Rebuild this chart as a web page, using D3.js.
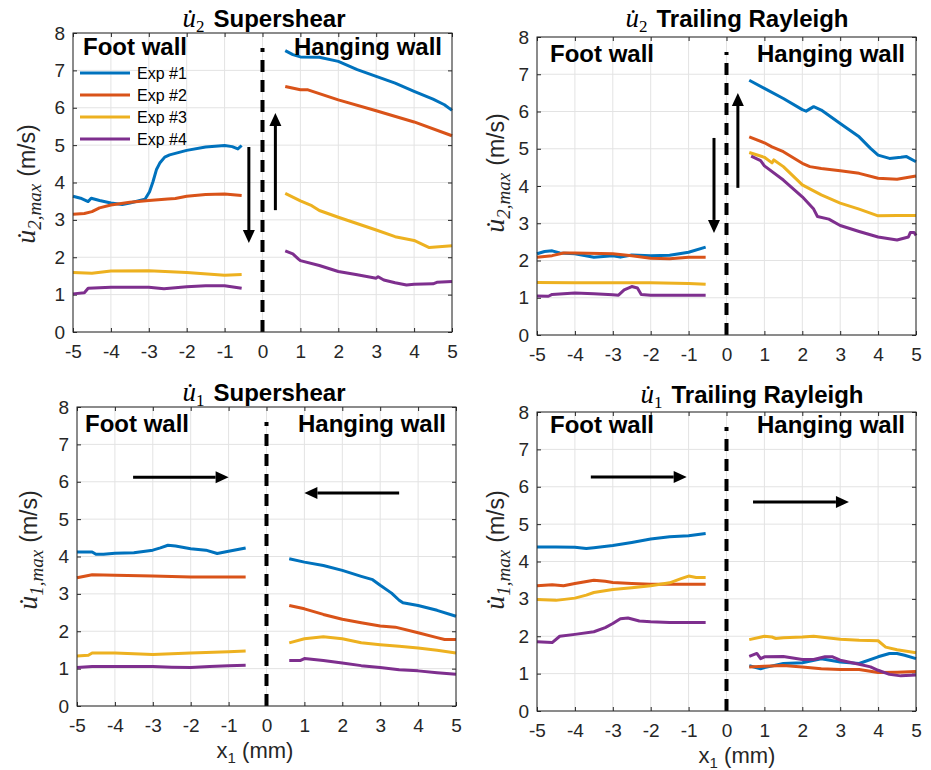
<!DOCTYPE html>
<html>
<head>
<meta charset="utf-8">
<script src="https://cdn.jsdelivr.net/npm/d3@7"></script>
<style>
    body { margin: 0; background: #fff; }
    text { font-family: "Liberation Sans", Arial, Helvetica, sans-serif; }
</style>
</head>
<body>
<div id="chart"></div>
<script>
// series labels + MATLAB default colours
const expNames = ["Exp #1", "Exp #2", "Exp #3", "Exp #4"];
const expColors = ["#0072BD", "#D95319", "#EDB120", "#7E2F8E"];
const xTicks = [-5, -4, -3, -2, -1, 0, 1, 2, 3, 4, 5];
const yTicks = [0, 1, 2, 3, 4, 5, 6, 7, 8];

// [x1 (mm), u (m/s)] ; null splits foot wall / hanging wall
const u2SuperExp1 = [[-5,3.63],[-4.8,3.58],[-4.6,3.49],[-4.52,3.58],[-4.3,3.52],[-4,3.45],[-3.7,3.41],[-3.5,3.45],[-3.1,3.55],[-2.98,3.75],[-2.89,4.02],[-2.8,4.34],[-2.71,4.52],[-2.58,4.68],[-2.45,4.74],[-2,4.86],[-1.5,4.95],[-1,4.99],[-0.8,4.96],[-0.65,4.9],[-0.55,4.99], null,
    [0.6,7.53],[0.8,7.42],[1,7.36],[1.5,7.35],[2,7.24],[2.5,7.02],[3,6.84],[3.5,6.66],[4,6.44],[4.5,6.23],[4.8,6.08],[5,5.93]];
const u2SuperExp2 = [[-5,3.15],[-4.7,3.17],[-4.5,3.22],[-4.3,3.32],[-4,3.40],[-3.5,3.47],[-3,3.52],[-2.5,3.56],[-2.3,3.57],[-2,3.63],[-1.5,3.68],[-1,3.69],[-0.55,3.65], null,
    [0.6,6.57],[1,6.48],[1.2,6.48],[2,6.21],[3,5.92],[4,5.62],[5,5.25]];
const u2SuperExp3 = [[-5,1.59],[-4.5,1.57],[-4,1.63],[-3,1.64],[-2,1.59],[-1,1.52],[-0.55,1.54], null,
    [0.6,3.71],[1,3.51],[1.3,3.38],[1.5,3.25],[2,3.07],[3,2.73],[3.5,2.55],[4,2.45],[4.4,2.26],[5,2.31]];
const u2SuperExp4 = [[-5,1.02],[-4.7,1.05],[-4.6,1.17],[-4,1.20],[-3,1.20],[-2.6,1.16],[-2,1.21],[-1.5,1.24],[-1,1.24],[-0.55,1.17], null,
    [0.6,2.17],[0.8,2.09],[0.95,1.95],[1,1.91],[1.5,1.78],[2,1.62],[2.5,1.53],[3,1.44],[3.05,1.48],[3.2,1.39],[3.5,1.32],[3.8,1.26],[4,1.28],[4.5,1.29],[4.6,1.33],[5,1.35]];

const u2TrailExp1 = [[-5,2.18],[-4.8,2.24],[-4.6,2.26],[-4.4,2.20],[-4,2.18],[-3.5,2.09],[-3,2.13],[-2.8,2.09],[-2.5,2.15],[-2,2.13],[-1.5,2.14],[-1,2.22],[-0.55,2.36], null,
    [0.6,6.84],[1,6.62],[1.5,6.35],[2,6.05],[2.1,6.01],[2.3,6.13],[2.5,6.04],[3,5.68],[3.5,5.32],[3.8,5.01],[4,4.83],[4.3,4.74],[4.6,4.77],[4.75,4.79],[5,4.65]];
const u2TrailExp2 = [[-5,2.09],[-4.6,2.13],[-4.3,2.20],[-4,2.20],[-3,2.18],[-2.5,2.13],[-2,2.06],[-1.5,2.05],[-1,2.09],[-0.55,2.09], null,
    [0.6,5.32],[1,5.16],[1.2,5.05],[1.5,4.92],[2,4.61],[2.2,4.52],[2.5,4.47],[3,4.41],[3.5,4.34],[4,4.21],[4.5,4.18],[5,4.27]];
const u2TrailExp3 = [[-5,1.41],[-4,1.40],[-3,1.40],[-2,1.40],[-1,1.38],[-0.55,1.36], null,
    [0.6,4.90],[1,4.77],[1.2,4.62],[1.25,4.70],[1.5,4.52],[2,4.03],[2.5,3.76],[3,3.54],[3.5,3.38],[4,3.20],[4.5,3.21],[5,3.21]];
const u2TrailExp4 = [[-5,1.05],[-4.7,1.04],[-4.6,1.09],[-4,1.13],[-3.5,1.11],[-3,1.08],[-2.85,1.07],[-2.7,1.21],[-2.5,1.30],[-2.35,1.26],[-2.25,1.09],[-2,1.07],[-1,1.07],[-0.55,1.07], null,
    [0.65,4.80],[0.9,4.68],[1,4.54],[1.5,4.16],[2,3.71],[2.3,3.38],[2.4,3.18],[2.7,3.11],[3,2.94],[3.5,2.78],[4,2.63],[4.5,2.55],[4.8,2.63],[4.85,2.75],[4.95,2.75],[5,2.67]];

const u1SuperExp1 = [[-5,4.12],[-4.6,4.12],[-4.5,4.06],[-4.3,4.06],[-4,4.09],[-3.5,4.10],[-3,4.17],[-2.8,4.23],[-2.6,4.30],[-2.4,4.28],[-2,4.21],[-1.6,4.17],[-1.3,4.08],[-1,4.14],[-0.55,4.23], null,
    [0.6,3.94],[1,3.85],[1.5,3.76],[2,3.63],[2.5,3.47],[2.8,3.38],[3,3.23],[3.3,3.02],[3.5,2.83],[3.6,2.76],[4,2.69],[4.5,2.56],[5,2.40]];
const u1SuperExp2 = [[-5,3.43],[-4.6,3.51],[-4,3.50],[-3,3.48],[-2,3.45],[-1,3.45],[-0.55,3.45], null,
    [0.6,2.69],[1,2.60],[1.5,2.45],[2,2.32],[2.5,2.23],[3,2.14],[3.4,2.11],[4,1.96],[4.5,1.83],[4.7,1.78],[5,1.78]];
const u1SuperExp3 = [[-5,1.34],[-4.7,1.36],[-4.6,1.42],[-4,1.42],[-3,1.38],[-2,1.42],[-1,1.45],[-0.55,1.47], null,
    [0.6,1.69],[1,1.80],[1.5,1.85],[2,1.80],[2.5,1.69],[3,1.64],[3.5,1.60],[4,1.55],[4.5,1.49],[5,1.42]];
const u1SuperExp4 = [[-5,1.03],[-4.6,1.06],[-4,1.06],[-3,1.06],[-2.5,1.04],[-2,1.03],[-1.5,1.06],[-1,1.08],[-0.55,1.09], null,
    [0.6,1.22],[0.9,1.22],[1,1.27],[1.5,1.22],[2,1.15],[2.5,1.08],[3,1.03],[3.5,0.97],[4,0.94],[4.5,0.89],[5,0.85]];

const u1TrailExp1 = [[-5,4.39],[-4.5,4.39],[-4,4.38],[-3.7,4.35],[-3.5,4.37],[-3,4.43],[-2.5,4.51],[-2,4.60],[-1.5,4.66],[-1,4.69],[-0.55,4.75], null,
    [0.6,1.21],[0.9,1.13],[1,1.16],[1.5,1.27],[2,1.29],[2.5,1.40],[3,1.31],[3.5,1.27],[4,1.45],[4.3,1.54],[4.5,1.54],[4.7,1.49],[5,1.40]];
const u1TrailExp2 = [[-5,3.35],[-4.6,3.38],[-4.3,3.35],[-4,3.41],[-3.5,3.50],[-3.2,3.47],[-3,3.44],[-2.5,3.41],[-2,3.39],[-1,3.39],[-0.55,3.39], null,
    [0.6,1.18],[1,1.20],[1.5,1.22],[2,1.18],[2.5,1.13],[3,1.11],[3.5,1.11],[4,1.03],[4.5,1.04],[5,1.06]];
const u1TrailExp3 = [[-5,2.98],[-4.5,2.96],[-4,3.02],[-3.7,3.10],[-3.5,3.17],[-3,3.25],[-2.5,3.30],[-2,3.35],[-1.5,3.43],[-1.2,3.54],[-1,3.61],[-0.8,3.57],[-0.55,3.57], null,
    [0.6,1.91],[1,2.00],[1.2,1.98],[1.3,1.94],[1.5,1.96],[2,1.98],[2.3,2.00],[3,1.92],[3.5,1.89],[4,1.88],[4.2,1.71],[4.5,1.64],[5,1.56]];
const u1TrailExp4 = [[-5,1.85],[-4.6,1.83],[-4.4,2.00],[-4,2.05],[-3.5,2.12],[-3.2,2.23],[-3,2.34],[-2.8,2.47],[-2.6,2.49],[-2.3,2.41],[-2,2.39],[-1.5,2.37],[-1,2.37],[-0.55,2.37], null,
    [0.6,1.46],[0.8,1.54],[0.9,1.40],[1,1.45],[1.5,1.46],[2,1.38],[2.3,1.38],[2.6,1.45],[2.8,1.45],[3,1.36],[3.5,1.25],[3.8,1.18],[4,1.09],[4.3,0.98],[4.6,0.94],[5,0.96]];

// slip direction arrows [xStart, yStart, xEnd, yEnd] (data units)
const u2SuperArrows = [[-0.36, 4.95, -0.36, 2.38], [0.34, 3.26, 0.34, 5.86]];
const u2TrailArrows = [[-0.33, 5.29, -0.33, 2.74], [0.30, 3.95, 0.30, 6.5]];
const u1SuperArrows = [[-3.52, 6.12, -1.0, 6.12], [3.5, 5.70, 1.0, 5.70]];
const u1TrailArrows = [[-3.58, 6.26, -1.05, 6.26], [0.70, 5.59, 3.23, 5.59]];

// layout (pixels) per subplot
const panels = [
    { comp: "2", name: "Supershear", box: { l: 73, r: 452, t: 33, b: 332 },
      titleX: 264, titleY: 27, wallY: 55, footX: 83, hangX: 442, ylabX: 35, ylabY: 184, xlabX: null, xlabY: null,
      series: [u2SuperExp1, u2SuperExp2, u2SuperExp3, u2SuperExp4], arrows: u2SuperArrows, legend: true },
    { comp: "2", name: "Trailing Rayleigh", box: { l: 537, r: 916, t: 37, b: 335 },
      titleX: 737, titleY: 27, wallY: 62, footX: 550, hangX: 905, ylabX: 504, ylabY: 173, xlabX: null, xlabY: null,
      series: [u2TrailExp1, u2TrailExp2, u2TrailExp3, u2TrailExp4], arrows: u2TrailArrows, legend: false },
    { comp: "1", name: "Supershear", box: { l: 77, r: 456, t: 407, b: 706 },
      titleX: 264, titleY: 401, wallY: 432, footX: 85, hangX: 446, ylabX: 37, ylabY: 550, xlabX: 255, xlabY: 758,
      series: [u1SuperExp1, u1SuperExp2, u1SuperExp3, u1SuperExp4], arrows: u1SuperArrows, legend: false },
    { comp: "1", name: "Trailing Rayleigh", box: { l: 537, r: 916, t: 412, b: 711 },
      titleX: 752, titleY: 403, wallY: 433, footX: 550, hangX: 905, ylabX: 504, ylabY: 550, xlabX: 737, xlabY: 763,
      series: [u1TrailExp1, u1TrailExp2, u1TrailExp3, u1TrailExp4], arrows: u1TrailArrows, legend: false }
];

const TEXT_COLOR = "#262626";
const SERIF = "'Liberation Serif', 'Times New Roman', serif";

const svg = d3.select("#chart").append("svg")
    .attr("width", 931)
    .attr("height", 770);

panels.forEach(p => {
    const x = d3.scaleLinear().domain([-5, 5]).range([p.box.l, p.box.r]);
    const y = d3.scaleLinear().domain([0, 8]).range([p.box.b, p.box.t]);
    const g = svg.append("g");

    // grid
    g.append("g").selectAll("line").data(xTicks).join("line")
        .attr("x1", d => x(d)).attr("x2", d => x(d))
        .attr("y1", p.box.t).attr("y2", p.box.b)
        .attr("stroke", "#e3e3e3");
    g.append("g").selectAll("line").data(yTicks).join("line")
        .attr("x1", p.box.l).attr("x2", p.box.r)
        .attr("y1", d => y(d)).attr("y2", d => y(d))
        .attr("stroke", "#e3e3e3");

    // axes (MATLAB style: inward ticks, box on)
    const styleAxis = sel => {
        sel.select(".domain").remove();
        sel.selectAll(".tick line").attr("stroke", TEXT_COLOR);
        sel.selectAll(".tick text").attr("fill", TEXT_COLOR)
            .style("font-size", "19px")
            .style("font-family", "'Liberation Sans', Arial, sans-serif");
    };
    g.append("g").attr("transform", `translate(0,${p.box.b})`)
        .call(d3.axisBottom(x).tickValues(xTicks).tickSize(-4).tickPadding(13).tickFormat(d => String(d)))
        .call(styleAxis);
    g.append("g").attr("transform", `translate(${p.box.l},0)`)
        .call(d3.axisLeft(y).tickValues(yTicks).tickSize(-4).tickPadding(8).tickFormat(d => String(d)))
        .call(styleAxis);
    g.append("g").attr("transform", `translate(0,${p.box.t})`)
        .call(d3.axisTop(x).tickValues(xTicks).tickSize(-4).tickFormat(""))
        .call(styleAxis);
    g.append("g").attr("transform", `translate(${p.box.r},0)`)
        .call(d3.axisRight(y).tickValues(yTicks).tickSize(-4).tickFormat(""))
        .call(styleAxis);

    // fault line
    g.append("line")
        .attr("x1", x(0)).attr("x2", x(0))
        .attr("y1", y(0)).attr("y2", y(7.6))
        .attr("stroke", "#000")
        .attr("stroke-width", 4)
        .attr("stroke-dasharray", "12,8");

    // data lines
    const line = d3.line()
        .defined(d => d !== null)
        .x(d => x(d[0]))
        .y(d => y(d[1]));
    g.append("g").selectAll("path").data(p.series).join("path")
        .attr("d", line)
        .attr("fill", "none")
        .attr("stroke", (d, i) => expColors[i])
        .attr("stroke-width", 3)
        .attr("stroke-linejoin", "round");

    // arrows
    p.arrows.forEach(a => {
        const x1 = x(a[0]), y1 = y(a[1]), x2 = x(a[2]), y2 = y(a[3]);
        const ang = Math.atan2(y2 - y1, x2 - x1);
        const headLen = 13, headW = 6;
        const bx = x2 - headLen * Math.cos(ang), by = y2 - headLen * Math.sin(ang);
        g.append("line")
            .attr("x1", x1).attr("y1", y1).attr("x2", bx).attr("y2", by)
            .attr("stroke", "#000").attr("stroke-width", 3);
        const px = -Math.sin(ang) * headW, py = Math.cos(ang) * headW;
        g.append("polygon")
            .attr("points", `${x2},${y2} ${bx + px},${by + py} ${bx - px},${by - py}`)
            .attr("fill", "#000");
    });

    // wall labels
    g.append("text")
        .attr("x", p.footX).attr("y", p.wallY)
        .attr("font-size", 24).attr("font-weight", "bold")
        .text("Foot wall");
    g.append("text")
        .attr("x", p.hangX).attr("y", p.wallY)
        .attr("text-anchor", "end")
        .attr("font-size", 24).attr("font-weight", "bold")
        .text("Hanging wall");

    // box
    g.append("rect")
        .attr("x", p.box.l).attr("y", p.box.t)
        .attr("width", p.box.r - p.box.l).attr("height", p.box.b - p.box.t)
        .attr("fill", "none").attr("stroke", TEXT_COLOR);

    // title
    const title = g.append("text")
        .attr("x", p.titleX)
        .attr("y", p.titleY)
        .attr("text-anchor", "middle");
    title.append("tspan").attr("font-family", SERIF).attr("font-style", "italic")
        .attr("font-size", 27).text("u\u0307");
    title.append("tspan").attr("font-family", SERIF).attr("font-size", 17)
        .attr("dy", 5).text(p.comp);
    title.append("tspan").attr("font-weight", "bold").attr("font-size", 24)
        .attr("dy", -5).attr("dx", 9).text(p.name);

    // y label
    const yl = g.append("text")
        .attr("transform", `translate(${p.ylabX},${p.ylabY}) rotate(-90)`)
        .attr("text-anchor", "middle")
        .attr("fill", TEXT_COLOR);
    yl.append("tspan").attr("font-family", SERIF).attr("font-style", "italic")
        .attr("font-size", 28).text("u\u0307");
    yl.append("tspan").attr("font-family", SERIF).attr("font-style", "italic")
        .attr("font-size", 19).attr("dy", 6).text(p.comp + ",max");
    yl.append("tspan").attr("font-size", 23).attr("dy", -6).attr("dx", 7).text("(m/s)");

    // x label
    if (p.xlabX !== null) {
        const xl = g.append("text")
            .attr("x", p.xlabX)
            .attr("y", p.xlabY)
            .attr("text-anchor", "middle")
            .attr("fill", TEXT_COLOR)
            .attr("font-size", 22);
        xl.append("tspan").text("x");
        xl.append("tspan").attr("font-size", 15).attr("dy", 5).text("1");
        xl.append("tspan").attr("dy", -5).text(" (mm)");
    }

    // legend
    if (p.legend) {
        const lg = g.append("g").attr("transform", `translate(${p.box.l + 7},${p.box.t + 40})`);
        expNames.forEach((name, i) => {
            lg.append("line")
                .attr("x1", 0).attr("x2", 50)
                .attr("y1", i * 22).attr("y2", i * 22)
                .attr("stroke", expColors[i]).attr("stroke-width", 3);
            lg.append("text")
                .attr("x", 57).attr("y", i * 22 + 6)
                .attr("font-size", 16)
                .text(name);
        });
    }
});
</script>
</body>
</html>
